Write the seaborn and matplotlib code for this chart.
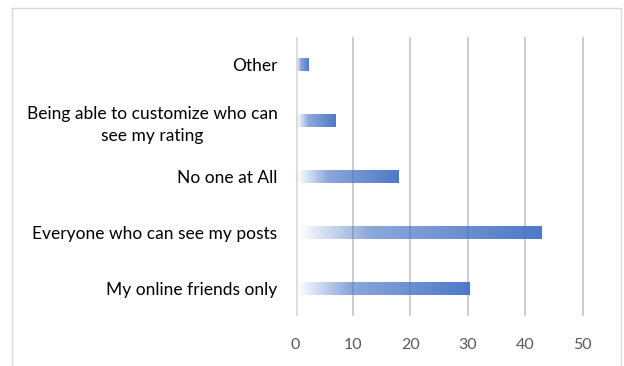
import numpy as np
import pandas as pd
import matplotlib
matplotlib.use("Agg")
import matplotlib.pyplot as plt
import seaborn as sns
from matplotlib.colors import to_rgb
from matplotlib.patches import Rectangle

categories = [
    "Other",
    "Being able to customize who can\nsee my rating",
    "No one at All",
    "Everyone who can see my posts",
    "My online friends only",
]
values = [2.3, 6.9, 18.0, 42.8, 30.3]
xticks = [0, 10, 20, 30, 40, 50]

sns.set_style("white")
plt.rcParams["font.family"] = ["Lato", "DejaVu Sans"]

df = pd.DataFrame({"category": categories, "value": values})

fig = plt.figure(figsize=(6.24, 3.66), dpi=100)
ax = fig.add_axes([295.5 / 624, (366 - 316) / 366, 316 / 624, 279 / 366])

bar_color = "#4472C4"
sns.barplot(data=df, x="value", y="category", orient="h", width=0.23,
            color=bar_color, ax=ax, zorder=3)

# gradient fill for each bar
rgb = np.array(to_rgb(bar_color))
n = 256
t = np.linspace(0, 1, n)
alpha = np.interp(t, [0, 0.04, 0.3, 1.0], [0.0, 0.08, 0.62, 0.95])
grad = np.zeros((1, n, 4))
grad[0, :, :3] = rgb
grad[0, :, 3] = alpha
for p in ax.patches:
    x0, y0 = p.get_x(), p.get_y()
    w, h = p.get_width(), p.get_height()
    p.set_facecolor("none")
    p.set_edgecolor("none")
    im = ax.imshow(grad, extent=(x0 + 0.25, x0 + w, y0 + h, y0), aspect="auto",
                   interpolation="bilinear", zorder=3)
    im.set_clip_path(p)
ax.set_xlim(0, 55)
ax.set_ylim(4.5, -0.5)

# gridlines
for v in xticks:
    if v == 0:
        ax.axvline(v, color="#dadada", lw=2.6, zorder=2)
    else:
        ax.axvline(v, color="#cccccc", lw=1.4, zorder=2)

ax.set_xticks(xticks)
ax.set_xticklabels([str(v) for v in xticks], color="#595959", fontsize=11.5)
ax.tick_params(axis="x", length=0, pad=16)
ax.tick_params(axis="y", length=0, pad=13)
for lab in ax.get_yticklabels():
    lab.set_fontsize(12.5)
    lab.set_color("#000000")
    lab.set_multialignment("center")
    lab.set_linespacing(1.45)
ax.set_xlabel("")
ax.set_ylabel("")
for s in ax.spines.values():
    s.set_visible(False)

# outer chart border
fig.patches.append(Rectangle((12 / 624, -0.05), 609 / 624, (366 - 8) / 366 + 0.05,
                             transform=fig.transFigure, fill=False,
                             edgecolor="#d9d9d9", lw=1.0))

fig.savefig("out.png", dpi=100)
